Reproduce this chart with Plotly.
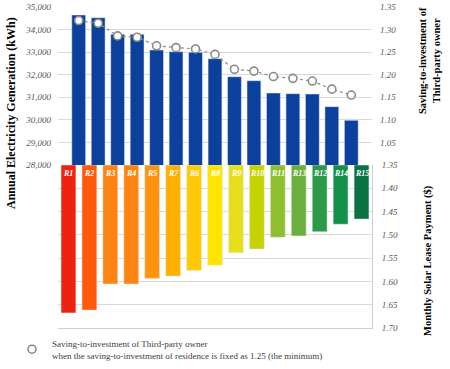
import plotly.graph_objects as go

categories = ["R1", "R2", "R3", "R4", "R5", "R7", "R6", "R8", "R9", "R10", "R11", "R13", "R12", "R14", "R15"]
generation_kwh = [34645, 34525, 33790, 33790, 33095, 33020, 32990, 32710, 31910, 31735, 31190, 31160, 31145, 30585, 29980]
sir_third_party = [1.320, 1.314, 1.286, 1.283, 1.264, 1.260, 1.257, 1.245, 1.212, 1.208, 1.196, 1.192, 1.186, 1.168, 1.155]
lease_payment = [1.667, 1.661, 1.605, 1.605, 1.593, 1.588, 1.576, 1.565, 1.538, 1.530, 1.505, 1.502, 1.493, 1.477, 1.466]
lease_colors = ["#EE2210", "#FF5A0C", "#FF8312", "#FF8312", "#FF9310", "#FFB000", "#FFC905", "#FFE500",
                "#E6DF1E", "#C6D300", "#8FBF2E", "#6DAF3C", "#2C9B48", "#15904B", "#0B7343"]
lease_base = 1.35
left_ticks = [28000, 29000, 30000, 31000, 32000, 33000, 34000, 35000]
right_top_ticks = [1.05, 1.10, 1.15, 1.20, 1.25, 1.30, 1.35]
right_bottom_ticks = [1.35, 1.40, 1.45, 1.50, 1.55, 1.60, 1.65, 1.70]
legend_text = "Saving-to-investment of Third-party owner<br>when the saving-to-investment of residence is fixed as 1.25 (the minimum)"

W, H = 450, 369


def px(x):
    return min(1.0, max(0.0, x / W))


def py(y):
    return min(1.0, max(0.0, 1 - y / H))


SERIF = "Liberation Serif"
tickfont = dict(family=SERIF, size=9, color="#595959", style="italic")
grid = "#d9d9d9"

fig = go.Figure()
fig.add_trace(go.Bar(x=categories, y=generation_kwh, marker_color="#0B409C", xaxis="x", yaxis="y",
                     showlegend=False, hoverinfo="skip"))
fig.add_trace(go.Scatter(x=categories, y=sir_third_party, xaxis="x", yaxis="y2", mode="lines+markers",
                         line=dict(color="#8a8a8a", width=1.2, dash="dot"),
                         marker=dict(symbol="circle", size=8, color="white", line=dict(color="#8a8a8a", width=1.6)),
                         showlegend=False))
fig.add_trace(go.Bar(x=categories, y=[v - lease_base for v in lease_payment], base=lease_base,
                     marker_color=lease_colors, xaxis="x2", yaxis="y3", showlegend=False))
fig.add_trace(go.Scatter(x=[None], y=[None], mode="markers", name=legend_text,
                         marker=dict(symbol="circle", size=8, color="white", line=dict(color="#8a8a8a", width=1.6)),
                         xaxis="x", yaxis="y2", showlegend=True))

xd = [px(58), px(372)]
top_dom = [py(165), py(7)]
bot_dom = [py(328.3), py(165)]

annotations = []
for c in categories:
    annotations.append(dict(x=c, xref="x2", y=1, yref="y3 domain", yanchor="top", yshift=-2,
                            text=c, showarrow=False,
                            font=dict(family=SERIF, size=8, color="white", style="italic", weight="bold")))
annotations += [
    dict(x=px(11), y=py(113), xref="paper", yref="paper", xanchor="center", yanchor="middle",
         text="Annual Electricity Generation (kWh)",
         textangle=-90, showarrow=False, font=dict(family=SERIF, size=12, color="black", weight="bold")),
    dict(x=px(429), y=py(61), xref="paper", yref="paper", xanchor="center", yanchor="middle",
         text="Saving-to-investment of<br>Third-party owner", textangle=-90, showarrow=False,
         font=dict(family=SERIF, size=10.5, color="black", weight="bold")),
    dict(x=px(428), y=py(261), xref="paper", yref="paper", xanchor="center", yanchor="middle",
         text="Monthly Solar Lease Payment ($)",
         textangle=-90, showarrow=False, font=dict(family=SERIF, size=10.5, color="black", weight="bold")),
]

fig.update_layout(
    width=W, height=H, margin=dict(l=0, r=0, t=0, b=0),
    paper_bgcolor="white", plot_bgcolor="white",
    bargap=0.29,
    xaxis=dict(domain=xd, anchor="y", showticklabels=False, showgrid=False, zeroline=False,
               categoryorder="array", categoryarray=categories),
    yaxis=dict(domain=top_dom, range=[28000, 35000], tickvals=left_ticks, tickformat=",",
               tickfont=tickfont, gridcolor=grid, zeroline=False, ticklabelstandoff=6, automargin=False),
    yaxis2=dict(overlaying="y", side="right", anchor="x", range=[1.0, 1.35], tickvals=right_top_ticks,
                tickformat=".2f", tickfont=tickfont, showgrid=False, zeroline=False,
                ticklabelstandoff=7, automargin=False),
    xaxis2=dict(domain=xd, anchor="y3", showticklabels=False, showgrid=False, zeroline=False,
                showline=True, linecolor="#cfcfcf", categoryorder="array", categoryarray=categories),
    yaxis3=dict(domain=bot_dom, range=[1.70, 1.35], side="right", anchor="x2", tickvals=right_bottom_ticks,
                tickformat=".2f", tickfont=tickfont, gridcolor=grid, zeroline=False,
                showline=True, linecolor="#cfcfcf", ticklabelstandoff=7, automargin=False),
    showlegend=True,
    legend=dict(x=px(12), y=py(331), xanchor="left", yanchor="top", bgcolor="rgba(0,0,0,0)",
                font=dict(family=SERIF, size=9, color="#404040"), itemwidth=30),
    annotations=annotations,
)

# remove the browser's default 8px body margin so the figure sits at the window's corner
fig.write_html("out.html", config={"displayModeBar": False},
               post_script="document.body.style.margin='0px';")
